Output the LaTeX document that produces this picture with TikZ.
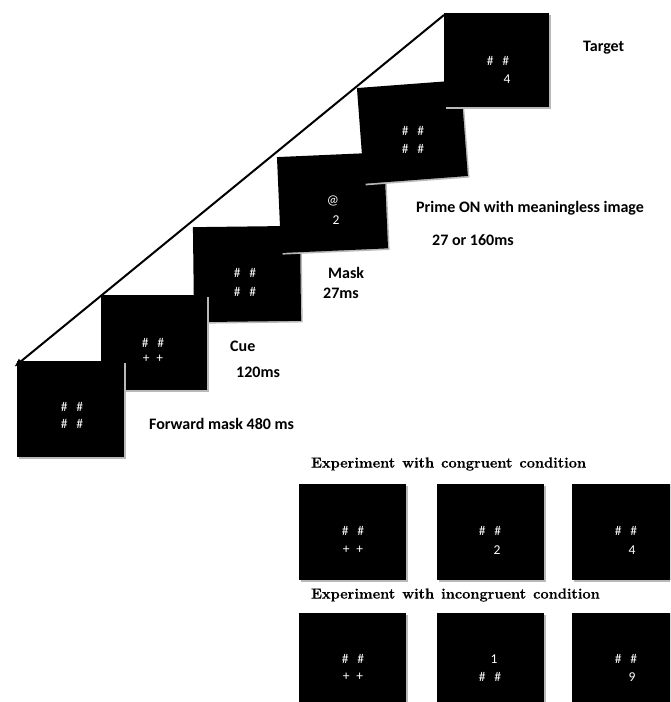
\documentclass[tikz,border=0pt]{standalone}
\usepackage{fontspec}
\newfontfamily\cali{Carlito}
\newfontfamily\ttlfont[FakeBold=0.6]{lmroman12-bold.otf}
\usetikzlibrary{arrows.meta,shadows}
\tikzset{
  scr/.style={fill=black, draw=none, inner sep=0pt,
    drop shadow={shadow xshift=1.6pt, shadow yshift=-1.6pt, fill=gray!55, opacity=1}},
  lbl/.style={anchor=west, inner sep=0pt, font=\cali\bfseries\fontsize{16}{19}\selectfont},
  ttl/.style={anchor=west, inner sep=0pt, font=\ttlfont\fontsize{14.6}{17}\selectfont},
  sym/.style={inner sep=0pt, text=white, font=\cali\fontsize{13.5}{15}\selectfont},
  timeline/.style={line width=2pt, -{Latex[length=9pt,width=7pt]}}
}
\newcommand{\hh}{\#\hspace{0.65em}\#}
\newcommand{\pp}{+\hspace{0.5em}+}
\newcommand{\ws}{\hspace{7pt}}
\begin{document}
\begin{tikzpicture}[x=1pt,y=-1pt]
\useasboundingbox (0,0) rectangle (670,702);
\clip (0,0) rectangle (670,702);
% sequence screens
\node[scr, minimum width=107pt, minimum height=95pt, rotate=0.7] (b3) at (247,274) {};
\node[scr, minimum width=106pt, minimum height=95pt] (b2) at (154,342.5) {};
\node[scr, minimum width=107pt, minimum height=96pt] (b1) at (70.5,409) {};
\node[scr, minimum width=107pt, minimum height=96pt, rotate=2.5] (b4) at (332.5,202.7) {};
\node[scr, minimum width=104pt, minimum height=96pt, rotate=4.3] (b5) at (412.4,132) {};
\node[scr, minimum width=105pt, minimum height=94pt] (b6) at (496.5,60) {};
% contents
\node[sym] (b6a) at (498,61) {\hh};
\node[sym] (b6b) at (507,79) {4};
\node[sym] (b5a) at (413,131) {\hh};
\node[sym] (b5b) at (413,149) {\hh};
\node[sym] (b4a) at (333,201) {@};
\node[sym] (b4b) at (336,220) {2};
\node[sym] (b3a) at (245,273) {\hh};
\node[sym] (b3b) at (245,292) {\hh};
\node[sym] (b2a) at (153,343) {\hh};
\node[sym] (b2b) at (153,359) {\pp};
\node[sym] (b1a) at (72,407) {\hh};
\node[sym] (b1b) at (72,424) {\hh};
% timeline arrow
\coordinate (as) at (444,15);
\coordinate (ae) at (14,367);
\draw[timeline] (as) -- (ae);
% labels
\node[lbl] (lt) at (583,48) {Target};
\node[lbl] (lp) at (416,208) {Prime ON with meaningless image};
\node[lbl] (lpt) at (432,240) {27 or 160ms};
\node[lbl] (lm) at (328,273) {Mask};
\node[lbl] (lmt) at (323,293) {27ms};
\node[lbl] (lc) at (230,346) {Cue};
\node[lbl] (lct) at (236,372) {120ms};
\node[lbl] (lf) at (149,424) {Forward mask 480 ms};
% conditions
\node[ttl] (tc) at (311,464) {Experiment\ws with\ws congruent\ws condition};
\node[scr, minimum width=107pt, minimum height=96pt] (c1) at (352.5,532) {};
\node[scr, minimum width=107pt, minimum height=96pt] (c2) at (490.5,532) {};
\node[scr, minimum width=107pt, minimum height=96pt] (c3) at (625.5,532) {};
\node[sym] (c1a) at (353,531) {\hh};
\node[sym] (c1b) at (353,550) {\pp};
\node[sym] (c2a) at (490,531) {\hh};
\node[sym] (c2b) at (497,550) {2};
\node[sym] (c3a) at (626,531) {\hh};
\node[sym] (c3b) at (632,550) {4};
\node[ttl] (ti) at (311,595) {Experiment\ws with\ws incongruent\ws condition};
\node[scr, minimum width=107pt, minimum height=96pt] (d1) at (352.5,661) {};
\node[scr, minimum width=107pt, minimum height=96pt] (d2) at (490.5,661) {};
\node[scr, minimum width=107pt, minimum height=96pt] (d3) at (625.5,661) {};
\node[sym] (d1a) at (353,659) {\hh};
\node[sym] (d1b) at (353,677) {\pp};
\node[sym] (d2a) at (494,659) {1};
\node[sym] (d2b) at (490,677) {\hh};
\node[sym] (d3a) at (626,659) {\hh};
\node[sym] (d3b) at (632,677) {9};
\end{tikzpicture}
\end{document}
